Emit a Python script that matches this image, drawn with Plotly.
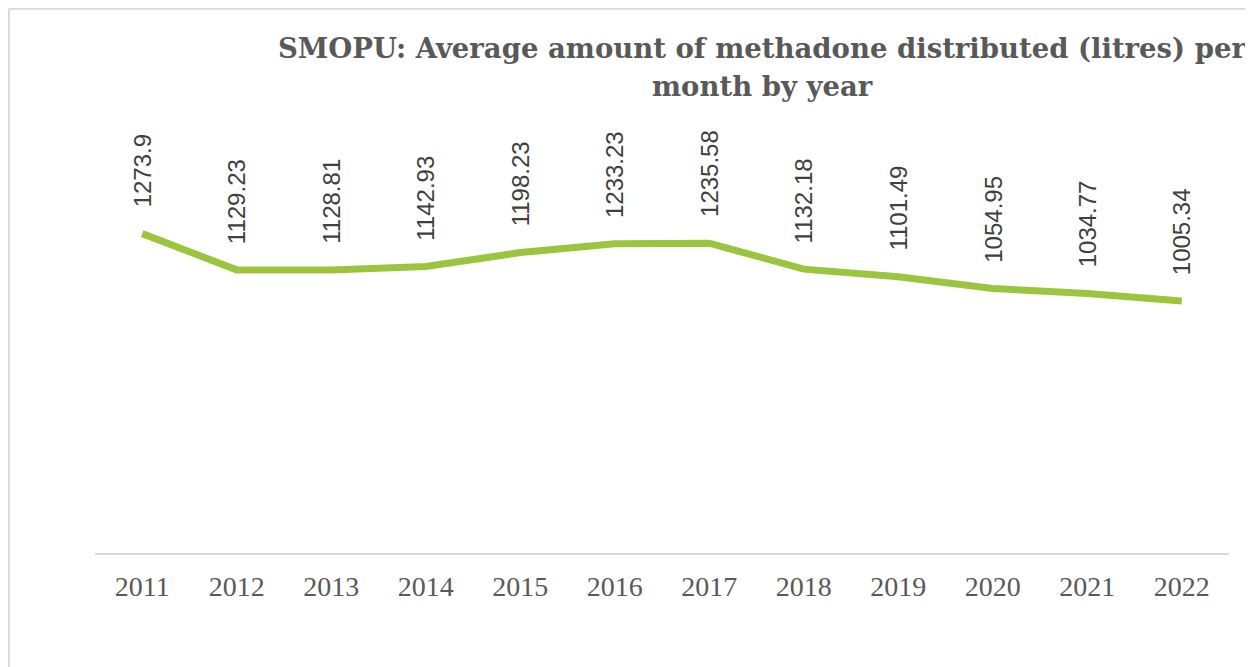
import plotly.graph_objects as go

years = ["2011", "2012", "2013", "2014", "2015", "2016", "2017", "2018", "2019", "2020", "2021", "2022"]
values = [1273.9, 1129.23, 1128.81, 1142.93, 1198.23, 1233.23, 1235.58, 1132.18, 1101.49, 1054.95, 1034.77, 1005.34]
labels = ["1273.9", "1129.23", "1128.81", "1142.93", "1198.23", "1233.23", "1235.58", "1132.18", "1101.49", "1054.95", "1034.77", "1005.34"]
title_lines = ["SMOPU: Average amount of methadone distributed (litres) per", "month by year"]

# page body has an 8px margin; figure is placed at (8, 8)
OFF = 8
W, H = 1253 - OFF, 667 - OFF
L, R, T, B = 95 - OFF, 24, 202 - OFF, 114
pw = W - L - R
ph = H - T - B

fig = go.Figure()
fig.add_trace(go.Scatter(
    x=years, y=values, mode="lines",
    line=dict(color="#9BC53F", width=7),
    hoverinfo="x+y", showlegend=False,
))

annotations = []
for i, (v, lab) in enumerate(zip(values, labels)):
    annotations.append(dict(
        x=i, y=v, xref="x", yref="y", text=lab, showarrow=False,
        textangle=-90, xanchor="center", yanchor="bottom", yshift=24,
        font=dict(family="Liberation Sans, Arial, sans-serif", size=24, color="#404040"),
    ))

title_x = (762 - 95) / pw
for line, ybot in zip(title_lines, [66.5, 103.5]):
    annotations.append(dict(
        x=title_x, y=(H - B - (ybot - OFF)) / ph, xref="paper", yref="paper",
        text="<b>" + line + "</b>", showarrow=False,
        xanchor="center", yanchor="bottom",
        font=dict(family="DejaVu Serif, serif", size=27.5, color="#595959"),
    ))

bx = (0.8 - L) / pw
by_top = (H - B - 0.8) / ph
by_bot = (H - B - H - 5) / ph
shapes = [
    dict(type="line", xref="paper", yref="paper", x0=bx, x1=bx, y0=by_bot, y1=by_top,
         line=dict(color="#d9d9d9", width=2)),
    dict(type="line", xref="paper", yref="paper", x0=bx, x1=1.05, y0=by_top, y1=by_top,
         line=dict(color="#d9d9d9", width=2)),
]

fig.update_layout(
    width=W, height=H,
    margin=dict(l=L, r=R, t=T, b=B),
    paper_bgcolor="white", plot_bgcolor="white",
    xaxis=dict(
        type="category", range=[-0.5, 11.5], showgrid=False,
        showline=True, linecolor="#d9d9d9", linewidth=2,
        ticks="", ticklabelstandoff=7,
        tickfont=dict(family="Liberation Serif, serif", size=28, color="#595959"),
        fixedrange=True,
    ),
    yaxis=dict(range=[0, 1400], visible=False, showgrid=False, zeroline=False, fixedrange=True),
    annotations=annotations,
    shapes=shapes,
)

fig.write_html("out.html")
